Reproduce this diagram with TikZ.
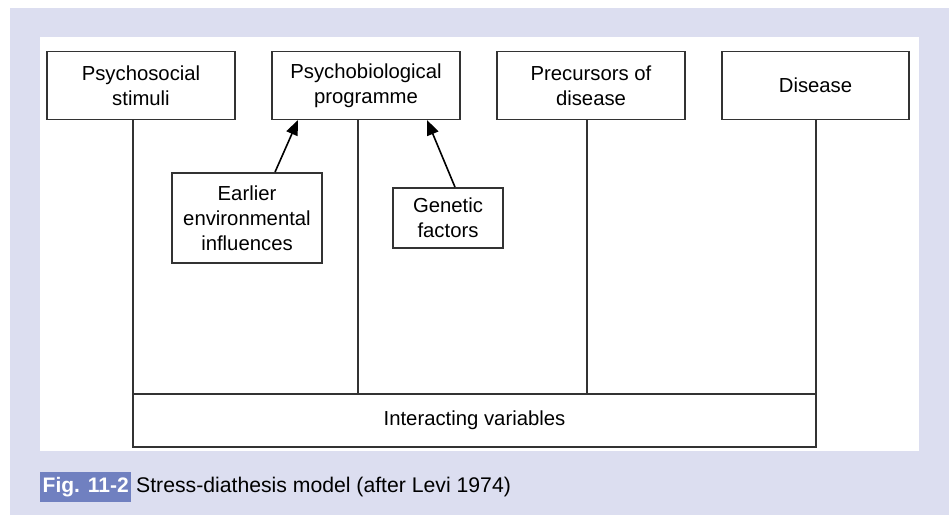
\documentclass[tikz,border=0pt]{standalone}
\usepackage{fontspec}
\setmainfont{Liberation Sans}
\usetikzlibrary{arrows.meta}
\definecolor{lav}{HTML}{DCDEF0}
\definecolor{figblue}{HTML}{7080C0}
\definecolor{edge}{HTML}{333333}
\begin{document}
\begin{tikzpicture}[x=1pt,y=-1pt,
  box/.style={draw=edge,line width=1.8pt,fill=white,align=center,inner sep=0pt,
    font=\fontsize{20.3}{24.8}\selectfont},
  link/.style={draw=edge,line width=1.6pt},
  arr/.style={draw=black,line width=1.6pt,-{Triangle[length=15pt,width=12pt]}}]
\useasboundingbox (0,0) rectangle (949,515);
\fill[white] (0,0) rectangle (949,515);
\fill[lav] (10,8) rectangle (949,515);
\fill[white] (40,37) rectangle (919,451);
% top boxes
\node[box,minimum width=188pt,minimum height=68pt] (ps) at (141,85.5) {Psychosocial\\stimuli};
\node[box,minimum width=188pt,minimum height=68pt] (pb) at (366,85.5) {Psychobiological\\programme};
\node[box,minimum width=188pt,minimum height=68pt] (pr) at (591,85.5) {Precursors of\\disease};
\node[box,minimum width=187pt,minimum height=68pt] (di) at (815.5,85.5) {Disease};
% lower boxes
\node[box,minimum width=150pt,minimum height=90pt] (ea) at (247,218) {Earlier\\environmental\\influences};
\node[box,minimum width=110pt,minimum height=60pt] (ge) at (448,218) {Genetic\\factors};
\node[box,minimum width=683pt,minimum height=53pt] (iv) at (474.5,420.5) {Interacting variables};
% vertical connectors
\coordinate (c1) at (133,119);
\coordinate (c2) at (358,119);
\coordinate (c3) at (587,119);
\coordinate (c4) at (816,119);
\draw[link] (c1) -- (c1 |- iv.north);
\draw[link] (c2) -- (c2 |- iv.north);
\draw[link] (c3) -- (c3 |- iv.north);
\draw[link] (c4) -- (c4 |- iv.north);
% arrows
\coordinate (t1) at (298,120);
\coordinate (t2) at (427,120);
\draw[arr] (ea.north -| 275,0) -- (t1);
\draw[arr] (ge.north -| 455,0) -- (t2);
% caption
\node[fill=figblue,text=white,font=\bfseries\fontsize{21}{24}\selectfont,inner sep=0pt,
  minimum width=91pt,minimum height=30pt,anchor=north west] (fig) at (40,472) {Fig. 11-2};
\node[font=\fontsize{21.2}{24}\selectfont,anchor=west,inner sep=0pt] (cap) at (136,487.5) {Stress-diathesis model (after Levi 1974)};
\end{tikzpicture}
\end{document}
